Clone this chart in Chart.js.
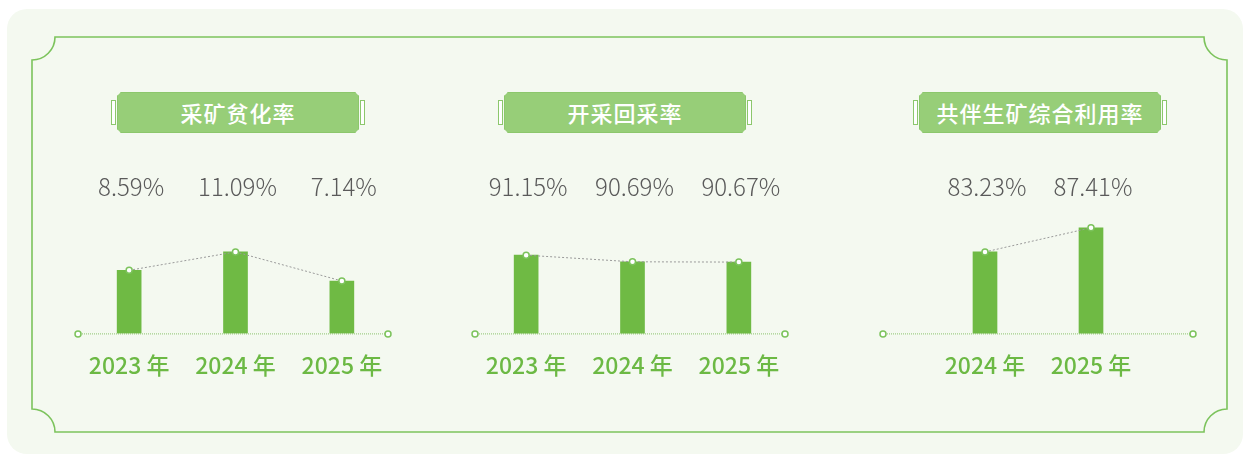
<!DOCTYPE html>
<html lang="zh-CN">
<head>
<meta charset="utf-8">
<title>矿产资源利用指标</title>
<script src="https://cdn.jsdelivr.net/npm/chart.js@4.4.1/dist/chart.umd.min.js"></script>
<style>
    html, body {
        margin: 0;
        padding: 0;
        background: #ffffff;
    }
    body {
        position: relative;
        width: 1246px;
        height: 456px;
        overflow: hidden;
        font-family: "Noto Sans CJK SC", "Noto Sans", sans-serif;
    }
    .card {
        position: absolute;
        left: 7px;
        top: 9px;
        width: 1236px;
        height: 445px;
        border-radius: 20px;
        background: #f4f9f0;
    }
    .frame {
        position: absolute;
        left: 0;
        top: 0;
    }
    .badge {
        position: absolute;
        top: 92px;
        width: 254px;
        height: 41px;
    }
    .badge .body {
        position: absolute;
        left: 6px;
        right: 6px;
        top: 0;
        bottom: 0;
        background: #97ce78;
        box-shadow: inset 0 0 0 1px #8cc76c;
        clip-path: polygon(4px 0, calc(100% - 4px) 0, 100% 4px, 100% calc(100% - 4px), calc(100% - 4px) 100%, 4px 100%, 0 calc(100% - 4px), 0 4px);
        color: #ffffff;
        font-size: 22px;
        font-weight: 500;
        line-height: 41px;
        text-align: center;
        letter-spacing: 1px;
    }
    .badge .side {
        position: absolute;
        top: 8px;
        width: 3px;
        height: 23px;
        background: #ffffff;
        border: 1px solid #8cc76c;
    }
    .badge .side.l { left: 0; }
    .badge .side.r { right: 0; }
    canvas {
        position: absolute;
        top: 160px;
    }
</style>
</head>
<body>
<div class="card"></div>
<svg class="frame" width="1246" height="456">
    <path d="M55,37 H1204 A23,23 0 0 0 1227,60 V409 A23,23 0 0 0 1204,432 H55 A23,23 0 0 0 32,409 V60 A23,23 0 0 0 55,37 Z"
          fill="none" stroke="#7cc35c" stroke-width="1.6"/>
</svg>

<div class="badge" style="left:111px"><div class="side l"></div><div class="body" id="title1"></div><div class="side r"></div></div>
<div class="badge" style="left:498px"><div class="side l"></div><div class="body" id="title2"></div><div class="side r"></div></div>
<div class="badge" style="left:913px"><div class="side l"></div><div class="body" id="title3"></div><div class="side r"></div></div>

<canvas id="chart1" width="331" height="249" style="left:70px"></canvas>
<canvas id="chart2" width="331" height="249" style="left:467px"></canvas>
<canvas id="chart3" width="331" height="249" style="left:875px"></canvas>

<script>
// Data
const titles = ['采矿贫化率', '开采回采率', '共伴生矿综合利用率'];
const yearsAll = ['2023 年', '2024 年', '2025 年'];
const yearsLast = ['2024 年', '2025 年'];
const dilutionRate = [8.59, 11.09, 7.14];
const recoveryRate = [91.15, 90.69, 90.67];
const utilizationRate = [83.23, 87.41];

Chart.defaults.font.family = '"Noto Sans CJK SC", "Noto Sans", sans-serif';

titles.forEach((t, i) => {
    document.getElementById('title' + (i + 1)).textContent = t;
});

// Dotted baseline with small rings at both ends
const baseline = {
    id: 'baseline',
    beforeDatasetsDraw(chart) {
        const ctx = chart.ctx;
        const y = chart.chartArea.bottom + 0.5;
        const x0 = 8, x1 = chart.width - 13;
        ctx.save();
        ctx.strokeStyle = '#8cc46e';
        ctx.lineWidth = 1;
        ctx.setLineDash([1, 1]);
        ctx.beginPath();
        ctx.moveTo(x0, y);
        ctx.lineTo(x1, y);
        ctx.stroke();
        ctx.setLineDash([]);
        ctx.fillStyle = '#ffffff';
        ctx.strokeStyle = '#7cc35c';
        ctx.lineWidth = 1.5;
        [x0, x1].forEach(x => {
            ctx.beginPath();
            ctx.arc(x, y, 3, 0, Math.PI * 2);
            ctx.fill();
            ctx.stroke();
        });
        ctx.restore();
    }
};

// Percent labels above each column
const valueLabels = {
    id: 'valueLabels',
    afterDatasetsDraw(chart) {
        const ctx = chart.ctx;
        const xScale = chart.scales.x;
        const values = chart.data.datasets[0].data;
        ctx.save();
        ctx.font = '300 24px "Noto Sans CJK SC", "Noto Sans", sans-serif';
        ctx.fillStyle = '#5a5a5a';
        ctx.textAlign = 'center';
        ctx.textBaseline = 'middle';
        values.forEach((v, i) => {
            ctx.fillText(v.toFixed(2) + '%', xScale.getPixelForValue(i) + 2, 27);
        });
        ctx.restore();
    }
};

function makeChart(id, labels, values, yMin, yMax, padLeft, padRight) {
    const ctx = document.getElementById(id).getContext('2d');
    return new Chart(ctx, {
        type: 'bar',
        data: {
            labels: labels,
            datasets: [{
                type: 'line',
                data: values,
                order: 0,
                borderColor: '#9a9a9a',
                borderWidth: 1,
                borderDash: [2, 2],
                pointRadius: 3,
                pointBackgroundColor: '#ffffff',
                pointBorderColor: '#7cc35c',
                pointBorderWidth: 1.5,
                tension: 0
            }, {
                type: 'bar',
                data: values,
                order: 1,
                backgroundColor: '#6fba44',
                barThickness: 24
            }]
        },
        options: {
            responsive: false,
            animation: false,
            layout: {
                padding: { top: 50, bottom: 12, left: padLeft, right: padRight }
            },
            plugins: {
                legend: { display: false },
                tooltip: { enabled: false }
            },
            scales: {
                x: {
                    offset: true,
                    grid: { display: false, drawTicks: false },
                    border: { display: false },
                    ticks: {
                        color: '#6cb944',
                        padding: 18,
                        font: { size: 23, weight: '500' }
                    }
                },
                y: { display: false, min: yMin, max: yMax }
            }
        },
        plugins: [baseline, valueLabels]
    });
}

makeChart('chart1', yearsAll, dilutionRate, 0, 16.8, 0, 0);
makeChart('chart2', yearsAll, recoveryRate, 85.7, 94.3, 0, 0);
makeChart('chart3', yearsLast, utilizationRate, 69.1, 90.5, 57, 62);
</script>
</body>
</html>
